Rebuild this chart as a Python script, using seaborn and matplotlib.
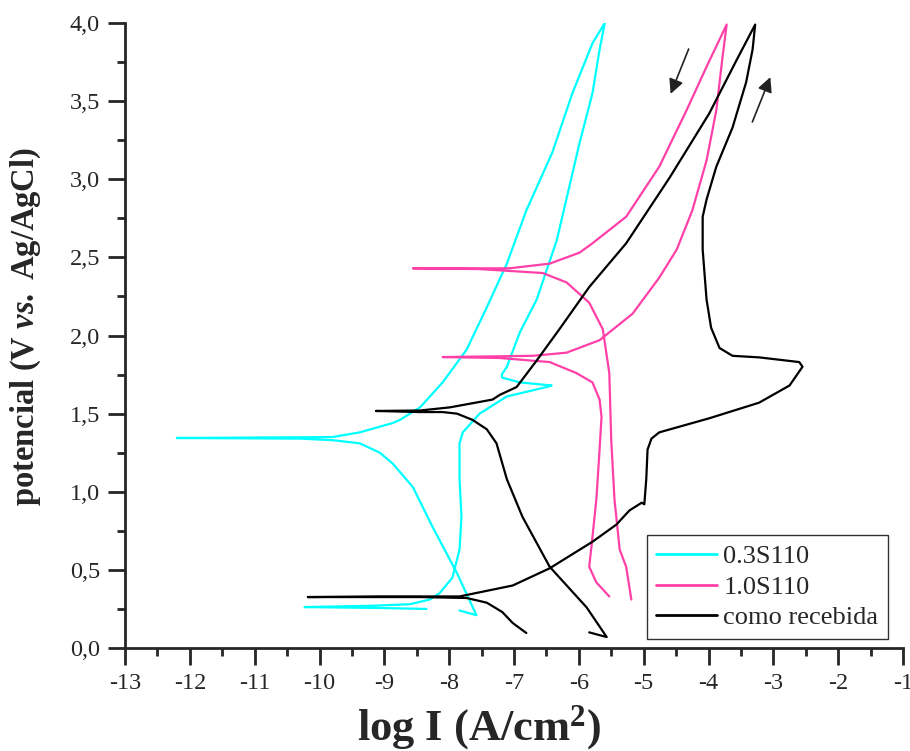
import numpy as np
import pandas as pd
import matplotlib
matplotlib.use("Agg")
import matplotlib.pyplot as plt
import seaborn as sns
from matplotlib.ticker import MultipleLocator, FuncFormatter

# ---------------- data (log I, potential) ----------------
samples = ["0.3S110", "1.0S110", "como recebida"]
colors = ["#00FFFF", "#FF40A8", "#000000"]

cyan_x = [-8.35, -9.07, -10.23, -9.22, -8.61, -8.30, -8.15, -7.95, -7.84, -7.81, -7.84, -7.84,
          -7.79, -7.53, -7.11, -6.50, -6.42, -6.91, -7.18, -7.19, -7.11, -6.91, -6.65, -6.34,
          -5.99, -5.79, -5.68, -5.60,
          -5.79, -6.10, -6.41, -6.81, -7.11, -7.42, -7.73, -8.10, -8.45, -8.76, -8.87, -9.38,
          -9.80, -12.20, -10.30, -9.80, -9.38, -9.07, -8.87, -8.56, -8.25, -7.88, -7.58, -7.84]
cyan_y = [0.25, 0.256, 0.262, 0.27, 0.28, 0.31, 0.35, 0.45, 0.63, 0.84, 1.08, 1.31,
          1.38, 1.50, 1.61, 1.67, 1.68, 1.70, 1.73, 1.75, 1.80, 2.02, 2.23, 2.61,
          3.23, 3.55, 3.83, 4.00,
          3.87, 3.55, 3.17, 2.80, 2.46, 2.18, 1.91, 1.70, 1.54, 1.46, 1.44, 1.38,
          1.35, 1.344, 1.34, 1.33, 1.31, 1.25, 1.18, 1.03, 0.77, 0.48, 0.21, 0.24]

pink_x = [-5.53, -5.73, -5.84, -5.80, -5.73, -5.68, -5.65, -5.68, -5.79, -6.04, -6.45, -7.22,
          -8.10, -6.71, -6.19, -5.68, -5.17, -4.76, -4.49, -4.25, -4.03, -3.88, -3.79, -3.72,
          -4.03, -4.34, -4.76, -5.27, -5.79, -5.99, -6.45, -7.07, -8.56, -7.53, -6.56, -6.19,
          -5.84, -5.63, -5.53, -5.50, -5.45, -5.37, -5.27, -5.19]
pink_y = [0.33, 0.42, 0.52, 0.67, 0.95, 1.27, 1.48, 1.59, 1.70, 1.76, 1.83, 1.856,
          1.862, 1.87, 1.89, 1.97, 2.14, 2.37, 2.55, 2.80, 3.12, 3.44, 3.76, 3.99,
          3.72, 3.44, 3.08, 2.76, 2.59, 2.53, 2.46, 2.43, 2.43, 2.425, 2.40, 2.34,
          2.21, 2.04, 1.76, 1.33, 0.95, 0.63, 0.52, 0.31]

black_x = [-6.81, -7.02, -7.18, -7.42, -7.73, -8.45, -9.07, -10.18, -9.07, -7.84, -7.02, -6.45,
           -5.79, -5.42, -5.22, -5.03, -4.99, -4.96, -4.94, -4.88, -4.76, -3.99, -3.22, -2.75,
           -2.55, -2.60, -3.22, -3.63, -3.83, -3.96, -4.03, -4.09, -4.09, -4.03, -3.88, -3.63,
           -3.42, -3.32, -3.28,
           -3.57, -3.99, -4.60, -5.27, -5.84, -6.30, -6.65, -6.96, -7.22, -7.33, -7.99, -8.45,
           -9.13, -8.45, -8.10, -7.88, -7.64, -7.42, -7.27, -7.11, -6.87, -6.45, -5.88, -5.57, -5.84]
black_y = [0.096, 0.16, 0.23, 0.29, 0.32, 0.326, 0.326, 0.326, 0.33, 0.33, 0.40, 0.51,
           0.68, 0.79, 0.88, 0.93, 0.92, 1.08, 1.27, 1.34, 1.38, 1.47, 1.57, 1.68,
           1.80, 1.83, 1.86, 1.87, 1.92, 2.05, 2.23, 2.55, 2.76, 2.87, 3.08, 3.33,
           3.62, 3.83, 3.99,
           3.76, 3.42, 3.01, 2.59, 2.31, 2.04, 1.84, 1.67, 1.62, 1.59, 1.54, 1.52,
           1.517, 1.51, 1.51, 1.50, 1.46, 1.40, 1.31, 1.08, 0.84, 0.52, 0.26, 0.07, 0.10]

x_ticks = list(range(-13, 0))
y_ticks = [0.0, 0.5, 1.0, 1.5, 2.0, 2.5, 3.0, 3.5, 4.0]

# scan direction arrows (start, end) in data units
arrow_down = ((-4.29, 3.85), (-4.60, 3.53))
arrow_up = ((-3.34, 3.35), (-3.03, 3.67))

# ---------------- build frame ----------------
frames = []
for name, xs, ys in zip(samples, [cyan_x, pink_x, black_x], [cyan_y, pink_y, black_y]):
    frames.append(pd.DataFrame({"logI": xs, "E": ys, "sample": name, "order": range(len(xs))}))
df = pd.concat(frames, ignore_index=True)

# ---------------- style ----------------
sns.set_style("ticks")
plt.rcParams["font.family"] = ["Liberation Serif", "DejaVu Serif"]
plt.rcParams["axes.unicode_minus"] = False
plt.rcParams["mathtext.fontset"] = "custom"
plt.rcParams["mathtext.rm"] = "Liberation Serif:bold"
plt.rcParams["mathtext.it"] = "Liberation Serif:italic:bold"
plt.rcParams["mathtext.bf"] = "Liberation Serif:bold"

fig = plt.figure(figsize=(9.1, 7.51), dpi=100)
ax = fig.add_axes([125 / 910, 1 - 648 / 751, 778 / 910, 625 / 751])

sns.lineplot(data=df, x="logI", y="E", hue="sample", hue_order=samples,
             palette=colors, sort=False, estimator=None, units="sample",
             linewidth=1.6, ax=ax, legend=True)

ax.set_xlim(-13, -1)
ax.set_ylim(0, 4)
ax.set_xticks(x_ticks)
ax.set_yticks(y_ticks)
ax.xaxis.set_minor_locator(MultipleLocator(0.5))
ax.yaxis.set_minor_locator(MultipleLocator(0.25))
ax.yaxis.set_major_formatter(FuncFormatter(lambda v, p: f"{v:.1f}".replace(".", ",")))
ax.xaxis.set_major_formatter(FuncFormatter(lambda v, p: f"{int(round(v))}"))
ax.tick_params(which="major", direction="out", length=12, width=2, labelsize=17.5, pad=6)
ax.tick_params(which="minor", direction="out", length=6, width=2)
sns.despine(ax=ax)
for s in ["left", "bottom"]:
    ax.spines[s].set_linewidth(2)

ax.set_xlabel(r"log I (A/cm$^{2}$)", fontsize=32, fontweight="bold")
ax.set_ylabel(r"potencial (V $\mathit{vs.}$ Ag/AgCl)", fontsize=23.5, fontweight="bold")
ax.xaxis.label.set_va("center")
ax.xaxis.set_label_coords(0.455, -0.128)
ax.yaxis.set_label_coords(-0.106, 0.515)

for (x0, y0), (x1, y1) in [arrow_down, arrow_up]:
    ax.annotate("", xy=(x1, y1), xytext=(x0, y0),
                arrowprops=dict(arrowstyle="-|>", color="#222222", lw=1.2, mutation_scale=22))

leg = ax.legend(loc="lower right", bbox_to_anchor=(888 / 910, 1 - 639 / 751),
                bbox_transform=fig.transFigure, frameon=True, fancybox=False,
                edgecolor="black", fontsize=19, handlelength=2.3, labelspacing=0.27,
                borderpad=0.36, handletextpad=0.25, borderaxespad=0.0, title=None)
leg.get_frame().set_linewidth(1.0)
for line in leg.get_lines():
    line.set_linewidth(2.0)

fig.savefig("out.png", dpi=100)
